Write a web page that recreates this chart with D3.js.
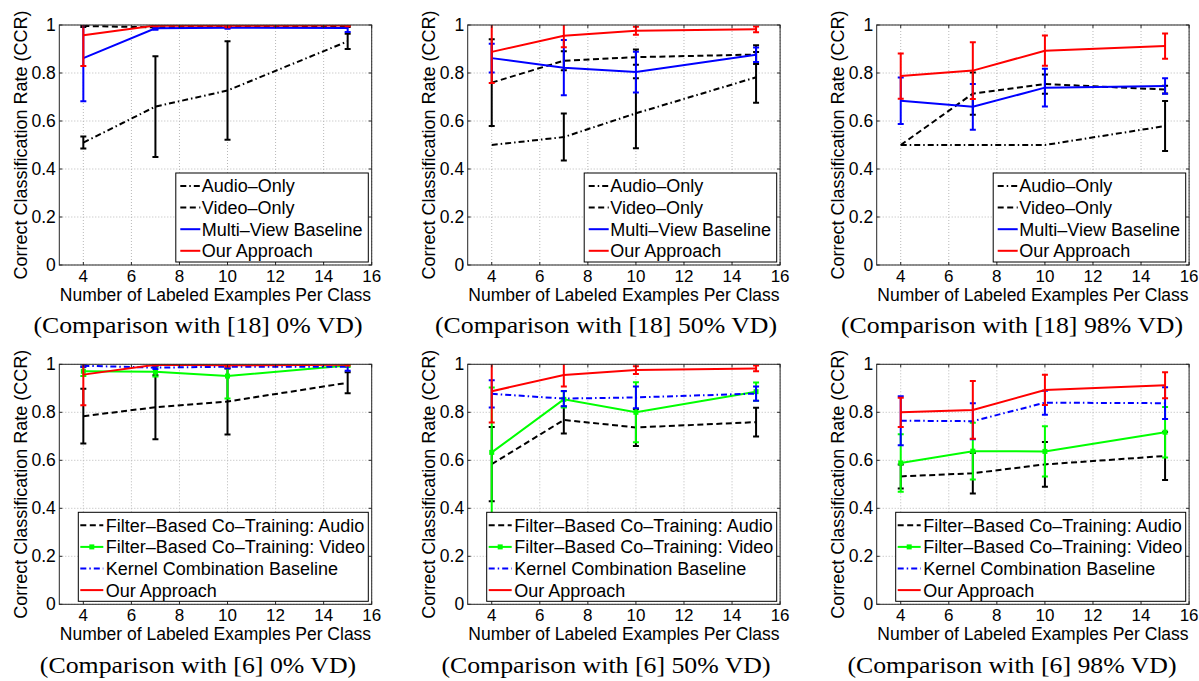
<!DOCTYPE html>
<html lang="en">
<head>
<meta charset="UTF-8">
<title>CCR comparison</title>
<script src="https://cdnjs.cloudflare.com/ajax/libs/d3/7.8.5/d3.min.js"></script>
<style>
  body { margin: 0; background: #fff; }
  svg text { font-family: "Liberation Sans", Arial, sans-serif; fill: #000; }
  .caption { font-family: "Liberation Serif", "Times New Roman", serif; }
</style>
</head>
<body>
<svg id="fig" width="1199" height="681"></svg>
<script>
// ---- data ----
const xVals = [4, 7, 10, 15];
const xTicks = [4, 6, 8, 10, 12, 14, 16];
const yTicks = [0, 0.2, 0.4, 0.6, 0.8, 1];
const yTickLabels = ["0", "0.2", "0.4", "0.6", "0.8", "1"];
const xLabel = "Number of Labeled Examples Per Class";
const yLabel = "Correct Classification Rate (CCR)";

const topNames = ["Audio\u2013Only", "Video\u2013Only", "Multi\u2013View Baseline", "Our Approach"];
const bottomNames = ["Filter\u2013Based Co\u2013Training: Audio", "Filter\u2013Based Co\u2013Training: Video",
                     "Kernel Combination Baseline", "Our Approach"];
const captions = ["(Comparison with [18] 0% VD)", "(Comparison with [18] 50% VD)", "(Comparison with [18] 98% VD)",
                  "(Comparison with [6] 0% VD)", "(Comparison with [6] 50% VD)", "(Comparison with [6] 98% VD)"];

// [18] 0% VD
const audio0 = [0.51, 0.66, 0.727, 0.932],   audio0Err = [0.025, 0.21, 0.205, 0.032];
const video0 = [0.996, 0.99, 0.995, 0.996],  video0Err = [0.004, 0.005, 0.004, 0.004];
const mv0 = [0.862, 0.986, 0.989, 0.988],    mv0Err = [0.18, 0.006, 0.005, 0.017];
const ours0 = [0.957, 0.998, 0.997, 0.998],  ours0Err = [0.128, 0.003, 0.006, 0.003];
// [18] 50% VD
const audio50 = [0.50, 0.533, 0.632, 0.782], audio50Err = [0, 0.098, 0.146, 0.106];
const video50 = [0.76, 0.851, 0.866, 0.877], video50Err = [0.181, 0.04, 0.032, 0.039];
const mv50 = [0.862, 0.822, 0.804, 0.876],   mv50Err = [0.06, 0.115, 0.085, 0.03];
const ours50 = [0.888, 0.955, 0.976, 0.982], ours50Err = [0.13, 0.048, 0.017, 0.012];
// [18] 98% VD
const audio98 = [0.5, 0.5, 0.5, 0.579],      audio98Err = [0, 0, 0, 0.104];
const video98 = [0.5, 0.714, 0.754, 0.731],  video98Err = [0, 0.088, 0.04, 0.016];
const mv98 = [0.684, 0.659, 0.739, 0.746],   mv98Err = [0.097, 0.095, 0.079, 0.032];
const ours98 = [0.787, 0.81, 0.893, 0.912],  ours98Err = [0.094, 0.118, 0.063, 0.053];
// [6] 0% VD
const fbAudio0 = [0.784, 0.821, 0.845, 0.923], fbAudio0Err = [0.114, 0.133, 0.137, 0.044];
const fbVideo0 = [0.971, 0.969, 0.951, 0.995], fbVideo0Err = [0.02, 0.02, 0.093, 0.005];
const kernel0 = [0.994, 0.986, 0.99, 0.99],    kernel0Err = [0.005, 0.006, 0.006, 0.017];
const oursB0 = [0.957, 0.998, 0.996, 0.998],   oursB0Err = [0.128, 0.003, 0.005, 0.003];
// [6] 50% VD
const fbAudio50 = [0.584, 0.768, 0.737, 0.759], fbAudio50Err = [0.155, 0.056, 0.077, 0.06];
const fbVideo50 = [0.633, 0.854, 0.80, 0.886],  fbVideo50Err = [0.27, 0.034, 0.125, 0.038];
const kernel50 = [0.877, 0.857, 0.862, 0.878],  kernel50Err = [0.057, 0.032, 0.045, 0.03];
const oursB50 = [0.888, 0.955, 0.976, 0.983],   oursB50Err = [0.13, 0.048, 0.016, 0.012];
// [6] 98% VD
const fbAudio98 = [0.533, 0.546, 0.583, 0.618], fbAudio98Err = [0.05, 0.084, 0.093, 0.1];
const fbVideo98 = [0.589, 0.638, 0.637, 0.717], fbVideo98Err = [0.12, 0.118, 0.105, 0.105];
const kernel98 = [0.765, 0.763, 0.84, 0.838],   kernel98Err = [0.102, 0.075, 0.05, 0.066];
const oursB98 = [0.80, 0.81, 0.893, 0.913],     oursB98Err = [0.061, 0.12, 0.063, 0.054];

// ---- styles ----
const DASH = "6,3.5", DASHDOT = "6,3,1.5,3";
const topStyles = [
  { color: "#000", dash: DASHDOT },
  { color: "#000", dash: DASH },
  { color: "#0000ff", dash: null },
  { color: "#ff0000", dash: null }
];
const bottomStyles = [
  { color: "#000", dash: DASH },
  { color: "#00ff00", dash: null, marker: true },
  { color: "#0000ff", dash: DASHDOT },
  { color: "#ff0000", dash: null }
];

const panels = [
  { col: 0, row: 0, names: topNames, styles: topStyles, legendLeft: 116.5,
    series: [[audio0, audio0Err], [video0, video0Err], [mv0, mv0Err], [ours0, ours0Err]] },
  { col: 1, row: 0, names: topNames, styles: topStyles, legendLeft: 116.5,
    series: [[audio50, audio50Err], [video50, video50Err], [mv50, mv50Err], [ours50, ours50Err]] },
  { col: 2, row: 0, names: topNames, styles: topStyles, legendLeft: 116.5,
    series: [[audio98, audio98Err], [video98, video98Err], [mv98, mv98Err], [ours98, ours98Err]] },
  { col: 0, row: 1, names: bottomNames, styles: bottomStyles, legendLeft: 19,
    series: [[fbAudio0, fbAudio0Err], [fbVideo0, fbVideo0Err], [kernel0, kernel0Err], [oursB0, oursB0Err]] },
  { col: 1, row: 1, names: bottomNames, styles: bottomStyles, legendLeft: 19,
    series: [[fbAudio50, fbAudio50Err], [fbVideo50, fbVideo50Err], [kernel50, kernel50Err], [oursB50, oursB50Err]] },
  { col: 2, row: 1, names: bottomNames, styles: bottomStyles, legendLeft: 19,
    series: [[fbAudio98, fbAudio98Err], [fbVideo98, fbVideo98Err], [kernel98, kernel98Err], [oursB98, oursB98Err]] }
];

const plotLefts = [59.3, 467.7, 876.7];
const plotTops = [25, 364.3];
const captionX = [198, 606, 1012];
const captionY = [333, 673];
const W = 312.4, H = 240;

const svg = d3.select("#fig");

panels.forEach((p, pi) => {
  const g = svg.append("g")
    .attr("transform", `translate(${plotLefts[p.col]},${plotTops[p.row]})`);

  const x = d3.scaleLinear().domain([3, 16]).range([0, W]);
  const y = d3.scaleLinear().domain([0, 1]).range([H, 0]);

  // dotted grid
  g.append("g").selectAll("line").data(xTicks).enter().append("line")
    .attr("x1", d => x(d)).attr("x2", d => x(d)).attr("y1", 0).attr("y2", H)
    .attr("stroke", "#b8b8b8").attr("stroke-width", 1).attr("stroke-dasharray", "1,2");
  g.append("g").selectAll("line").data(yTicks).enter().append("line")
    .attr("y1", d => y(d)).attr("y2", d => y(d)).attr("x1", 0).attr("x2", W)
    .attr("stroke", "#b8b8b8").attr("stroke-width", 1).attr("stroke-dasharray", "1,2");

  const clipId = "clip" + pi;
  g.append("clipPath").attr("id", clipId).append("rect")
    .attr("x", 0).attr("y", 0).attr("width", W).attr("height", H);
  const data = g.append("g").attr("clip-path", `url(#${clipId})`);

  const line = d3.line().x(d => x(d[0])).y(d => y(d[1]));

  p.series.forEach((s, si) => {
    const st = p.styles[si];
    const pts = xVals.map((xv, i) => [xv, s[0][i], s[1][i]]);
    const sg = data.append("g");
    // error bars
    pts.forEach(d => {
      if (d[2] <= 0) return;
      const x0 = x(d[0]), lo = y(d[1] - d[2]), hi = y(d[1] + d[2]);
      sg.append("line").attr("x1", x0).attr("x2", x0).attr("y1", lo).attr("y2", hi)
        .attr("stroke", st.color).attr("stroke-width", 2);
      [lo, hi].forEach(yy => sg.append("line")
        .attr("x1", x0 - 3).attr("x2", x0 + 3).attr("y1", yy).attr("y2", yy)
        .attr("stroke", st.color).attr("stroke-width", 2));
    });
    sg.append("path").datum(pts).attr("d", line)
      .attr("fill", "none").attr("stroke", st.color).attr("stroke-width", 2)
      .attr("stroke-dasharray", st.dash);
    if (st.marker) {
      sg.selectAll("rect.mk").data(pts).enter().append("rect")
        .attr("x", d => x(d[0]) - 2.5).attr("y", d => y(d[1]) - 2.5)
        .attr("width", 5).attr("height", 5).attr("fill", st.color);
    }
  });

  // axes box and inward ticks
  g.append("rect").attr("x", 0).attr("y", 0).attr("width", W).attr("height", H)
    .attr("fill", "none").attr("stroke", "#262626").attr("stroke-width", 1);
  const tk = g.append("g").attr("stroke", "#262626").attr("stroke-width", 1);
  xTicks.forEach(t => {
    tk.append("line").attr("x1", x(t)).attr("x2", x(t)).attr("y1", H).attr("y2", H - 3);
    tk.append("line").attr("x1", x(t)).attr("x2", x(t)).attr("y1", 0).attr("y2", 3);
  });
  yTicks.forEach(t => {
    tk.append("line").attr("x1", 0).attr("x2", 3).attr("y1", y(t)).attr("y2", y(t));
    tk.append("line").attr("x1", W).attr("x2", W - 3).attr("y1", y(t)).attr("y2", y(t));
  });

  g.append("g").selectAll("text").data(xTicks).enter().append("text")
    .attr("x", d => x(d)).attr("y", H + 16.5).attr("text-anchor", "middle")
    .attr("font-size", 17).text(d => d);
  g.append("g").selectAll("text").data(yTicks).enter().append("text")
    .attr("x", -3.5).attr("y", d => y(d)).attr("dy", "0.35em").attr("text-anchor", "end")
    .attr("font-size", 17.5).text((d, i) => yTickLabels[i]);

  g.append("text").attr("x", W / 2).attr("y", H + 36).attr("text-anchor", "middle")
    .attr("font-size", 17.5).text(xLabel);
  g.append("text").attr("transform", `translate(-32.8,${H / 2}) rotate(-90)`)
    .attr("text-anchor", "middle").attr("font-size", 18).text(yLabel);

  // legend
  const lg = g.append("g").attr("transform", `translate(${p.legendLeft},148)`);
  const lw = W - 3.4 - p.legendLeft;
  lg.append("rect").attr("width", lw).attr("height", 89)
    .attr("fill", "#fff").attr("stroke", "#000").attr("stroke-width", 1);
  const isTop = p.row === 0;
  const s0 = isTop ? 4.5 : 2, s1 = isTop ? 24.5 : 25, tx = isTop ? 26 : 27.5;
  p.names.forEach((name, i) => {
    const st = p.styles[i];
    const ly = 13 + i * 21.6;
    lg.append("line").attr("x1", s0).attr("x2", s1).attr("y1", ly).attr("y2", ly)
      .attr("stroke", st.color).attr("stroke-width", 2).attr("stroke-dasharray", st.dash);
    if (st.marker) {
      lg.append("rect").attr("x", (s0 + s1) / 2 - 2.5).attr("y", ly - 2.5)
        .attr("width", 5).attr("height", 5).attr("fill", st.color);
    }
    lg.append("text").attr("x", tx).attr("y", ly).attr("dy", "0.36em")
      .attr("font-size", 18).text(name);
  });

  // caption under each panel
  const cap = svg.append("text").attr("class", "caption")
    .attr("x", captionX[p.col]).attr("y", captionY[p.row])
    .attr("text-anchor", "middle").attr("font-size", 24).text(captions[pi]);
  const len = cap.node().getComputedTextLength();
  cap.attr("textLength", len * 1.075).attr("lengthAdjust", "spacingAndGlyphs");
});
</script>
</body>
</html>
